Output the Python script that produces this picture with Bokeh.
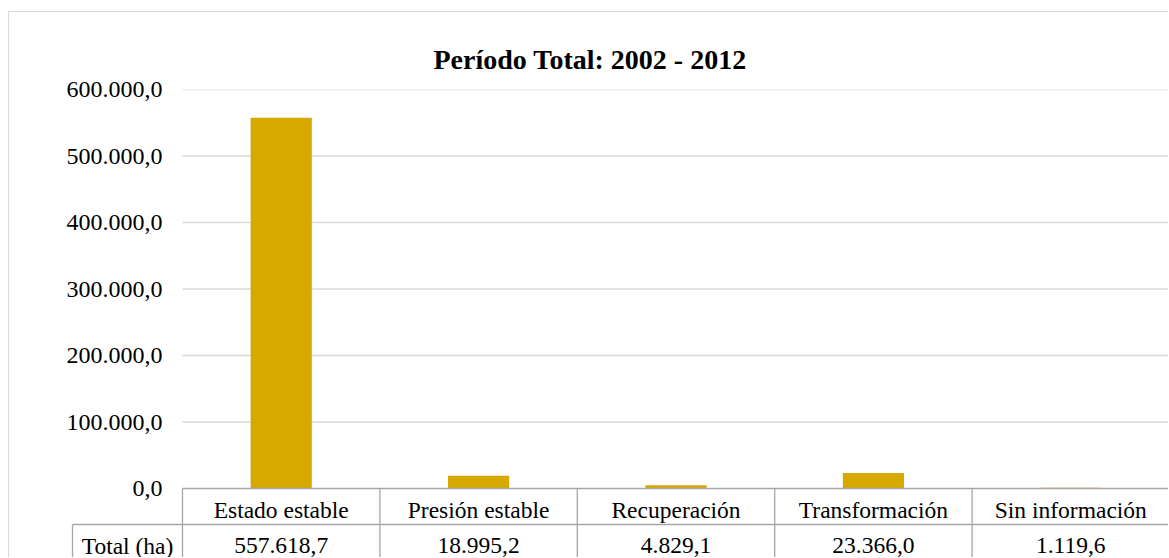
from bokeh.plotting import figure
from bokeh.models import Range1d, FixedTicker, ColumnDataSource
from bokeh.embed import file_html
from bokeh.resources import INLINE
from bokeh.core.properties import value

# ---------------- data ----------------
title_text = "Período Total: 2002 - 2012"
categories = ["Estado estable", "Presión estable", "Recuperación", "Transformación", "Sin información"]
totals_ha = [557618.7, 18995.2, 4829.1, 23366.0, 1119.6]
row_header = "Total (ha)"
y_ticks = [0, 100000, 200000, 300000, 400000, 500000, 600000]


def es_format(v):
    s = f"{v:,.1f}"
    return s.replace(",", "X").replace(".", ",").replace("X", ".")


y_tick_labels = [es_format(t) for t in y_ticks]
table_values = [es_format(v) for v in totals_ha]

# ---------------- layout (page pixels) ----------------
ORIGIN_X, ORIGIN_Y = 9, 12          # canvas origin on the page
CELL_L = 72                         # left edge of the row-header cell
FRAME_L, FRAME_R = 70, 1169
PLOT_L = 182                        # left edge of the category columns
FRAME_T, FRAME_B = 89, 558
ZERO_PY = 488
LABEL_R = 162                       # right edge of the y tick labels
Y_MAX = y_ticks[-1]
N = len(categories)
COL_W = (FRAME_R - PLOT_L) / N


def y_at(py):
    return (ZERO_PY - py) / (ZERO_PY - FRAME_T) * Y_MAX


def x_at(px):
    return (px - PLOT_L) / COL_W


FONT_NAME = "Liberation Serif"
FONT = value(FONT_NAME)
BAR_COLOR = "#D6A800"
GRID_COLOR = "#d9d9d9"
TABLE_COLOR = "#a6a6a6"

p = figure(
    x_range=Range1d(x_at(FRAME_L), N),
    y_range=Range1d(y_at(FRAME_B), Y_MAX),
    width=FRAME_R - ORIGIN_X,
    height=FRAME_B - ORIGIN_Y,
    min_border_left=FRAME_L - ORIGIN_X,
    min_border_right=0,
    min_border_top=FRAME_T - ORIGIN_Y,
    min_border_bottom=0,
    x_axis_location=None,
    toolbar_location=None,
    output_backend="svg",
    title=title_text,
)
p.styles = {"border-top": f"1px solid {GRID_COLOR}", "border-left": f"1px solid {GRID_COLOR}",
            "margin-top": f"{ORIGIN_Y - 1}px", "margin-left": f"{ORIGIN_X - 1}px"}
p.outline_line_color = None
p.background_fill_color = "white"
p.border_fill_color = "white"

# title
p.title.text_font = FONT_NAME
p.title.text_font_size = "28px"
p.title.text_font_style = "bold"
p.title.text_color = "black"
p.title.align = "left"
p.title.offset = 433 - FRAME_L
p.title.standoff = 30

# y axis (labels pushed right so they end just left of the category columns)
ax = p.yaxis[0]
ax.ticker = FixedTicker(ticks=y_ticks)
ax.major_label_overrides = {t: l for t, l in zip(y_ticks, y_tick_labels)}
ax.axis_line_color = None
ax.major_tick_line_color = None
ax.minor_tick_line_color = None
ax.major_tick_in = 0
ax.major_tick_out = 0
ax.major_label_standoff = -(LABEL_R - FRAME_L)
ax.major_label_text_font = FONT_NAME
ax.major_label_text_font_size = "24px"
ax.major_label_text_color = "black"

p.xgrid.visible = False
p.ygrid.visible = False

# horizontal grid lines over the category columns only
grid_y = y_ticks[1:]
p.segment(x0=[0] * len(grid_y), x1=[N] * len(grid_y), y0=grid_y, y1=grid_y,
          line_color=GRID_COLOR, line_width=1.5)

# bars
x_pos = [i + 0.5 for i, _ in enumerate(categories)]
src = ColumnDataSource(dict(x=x_pos, cat=categories, total=totals_ha, label=table_values))
p.vbar(x="x", top="total", bottom=0, width=0.31, source=src,
       fill_color=BAR_COLOR, line_color=None)

# data table lines
y_sep = y_at(524)
y_bot = y_at(FRAME_B + 5)
xl = x_at(CELL_L)
seg_x0 = [0, xl, xl] + list(range(N + 1))
seg_x1 = [N, N, xl] + list(range(N + 1))
seg_y0 = [0, y_sep, y_sep] + [0] * (N + 1)
seg_y1 = [0, y_sep, y_bot] + [y_bot] * (N + 1)
p.segment(x0=seg_x0, y0=seg_y0, x1=seg_x1, y1=seg_y1, line_color=TABLE_COLOR, line_width=1.3)

# data table texts
p.text(x="x", y=y_at(509), text="cat", source=src, text_font=FONT, text_font_size="23.5px",
       text_align="center", text_baseline="middle", text_color="black")
p.text(x="x", y=y_at(545), text="label", source=src, text_font=FONT, text_font_size="23.5px",
       text_align="center", text_baseline="middle", text_color="black")
p.text(x=[(xl + 0) / 2], y=[y_at(545)], text=[row_header], text_font=FONT,
       text_font_size="23.5px", text_align="center", text_baseline="middle", text_color="black")

open("out.html", "w").write(file_html(p, INLINE))
